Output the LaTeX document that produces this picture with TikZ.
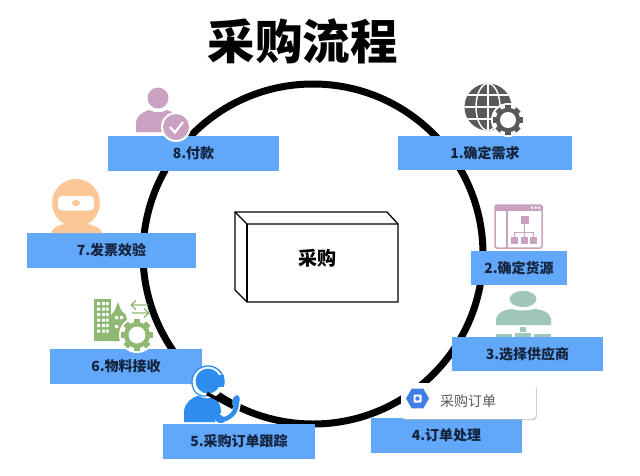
\documentclass[tikz,border=0pt]{standalone}
\usepackage{fontspec}
\setmainfont{Noto Sans CJK SC}
\usetikzlibrary{shapes.geometric,shadows}
\definecolor{boxblue}{HTML}{62A8FA}
\definecolor{labelink}{HTML}{14233C}
\definecolor{globegray}{HTML}{595959}
\definecolor{pinkicon}{HTML}{CBA1C1}
\definecolor{tealicon}{HTML}{9FC6B9}
\definecolor{orangeicon}{HTML}{FCC797}
\definecolor{greenicon}{HTML}{8FB973}
\definecolor{blueicon}{HTML}{2F8DEE}
\definecolor{hexblue}{HTML}{3F7FE6}
\tikzset{
  stepbox/.style={fill=boxblue,draw=none,inner sep=0pt,font=\fontsize{14}{16}\selectfont\bfseries,text=labelink},
  cubeline/.style={draw=black,line width=1.3pt,line join=miter},
  ring/.style={draw=black,line width=7pt},
  cardbox/.style={fill=white,draw=none,rounded corners=4pt,inner sep=0pt,drop shadow={shadow xshift=0.8pt,shadow yshift=-1.2pt,fill=black!35,opacity=0.6}},
}
% gear: x, y, outer radius, inner radius, colour
\newcommand{\geargly}[5]{%
  \fill[white] (#1,#2) circle ({#3+2});
  \foreach \a in {0,45,...,315}{
    \fill[#5,rotate around={\a:(#1,#2)}] ({#1-#3*0.19},#2) rectangle ({#1+#3*0.19},{#2-#3});
  }
  \fill[#5] (#1,#2) circle ({#3*0.82});
  \fill[white] (#1,#2) circle (#4);
}
\begin{document}
\begin{tikzpicture}[x=1pt,y=-1pt]
\useasboundingbox (0,0) rectangle (640,475);
\fill[white] (0,0) rectangle (640,475);
% ring
\node[circle,ring,minimum size=340pt,inner sep=0pt] (ring) at (313,254) {};
% title
\node[font=\fontsize{47.5}{50}\selectfont\bfseries,text=black,inner sep=0pt] (title) at (302.5,41) {采购流程};
% cube
\draw[cubeline] (235,212) -- (387,212) -- (398,224) -- (398,302) -- (247,302) -- (235,290) -- cycle;
\draw[cubeline] (235,212) -- (247,224) -- (398,224);
\draw[cubeline] (247,224) -- (247,302);
\node[font=\fontsize{19}{21}\selectfont\bfseries,text=black,inner sep=0pt] (center) at (317,258) {采购};
% boxes
\node[stepbox,minimum width=174pt,minimum height=34pt] (s1) at (485,153) {1.确定需求};
\node[stepbox,minimum width=96pt,minimum height=34pt] (s2) at (519,268) {2.确定货源};
\node[stepbox,minimum width=151pt,minimum height=34pt] (s3) at (527.5,354) {3.选择供应商};
\node[stepbox,minimum width=151pt,minimum height=35pt] (s4) at (446.5,435.5) {4.订单处理};
\node[stepbox,minimum width=152pt,minimum height=35pt] (s5) at (239,441.5) {5.采购订单跟踪};
\node[stepbox,minimum width=152pt,minimum height=35pt] (s6) at (126,366.5) {6.物料接收};
\node[stepbox,minimum width=169pt,minimum height=35pt] (s7) at (111.5,250.5) {7.发票效验};
\node[stepbox,minimum width=171pt,minimum height=35pt] (s8) at (193.5,153.5) {8.付款};
% icon 1: globe and gear
\fill[globegray] (488,107) circle (23.5);
\begin{scope}
\clip (488,107) circle (23.5);
\draw[white,line width=1.4pt] (488,83) -- (488,131);
\draw[white,line width=1.4pt] (488,107) ellipse (12 and 23.5);
\draw[white,line width=1.4pt] (464,107) -- (512,107);
\draw[white,line width=1.4pt] (464,95) -- (512,95);
\draw[white,line width=1.4pt] (464,119) -- (512,119);
\end{scope}
\geargly{508}{120}{15}{8}{globegray}
% icon 2: window with org chart
\draw[pinkicon,line width=1.5pt,rounded corners=1.5pt] (495,205) rectangle (542,248);
\fill[pinkicon] (495,205) rectangle (542,211);
\fill[white] (531,206.5) rectangle +(2,2) (534.5,206.5) rectangle +(2,2) (538,206.5) rectangle +(2,2);
\draw[pinkicon,line width=1.5pt] (507,211) -- (507,248);
\fill[pinkicon] (520.5,216) rectangle (528.5,224);
\draw[pinkicon,line width=0.9pt] (524.5,224) -- (524.5,232) (514.5,237) -- (514.5,232) -- (533.5,232) -- (533.5,237) (524.5,232) -- (524.5,237);
\fill[pinkicon] (511,237) rectangle (518,243.5);
\fill[pinkicon] (521,237) rectangle (528,243.5);
\fill[pinkicon] (530,237) rectangle (537,243.5);
% icon 3: seated person
\fill[tealicon] (523,299) ellipse (13.5 and 8);
\fill[tealicon] (496,325) -- (496,319) .. controls (497,312) and (505,309.5) .. (512,309) .. controls (518,311) and (528,311) .. (534,309) .. controls (542,309.5) and (550,312) .. (551,319) -- (551,325) -- cycle;
\fill[tealicon] (520,327) rectangle (526,332);
\fill[tealicon] (496,334) rectangle (512,337);
\fill[tealicon] (515,333) rectangle (531,337);
\fill[tealicon] (534,334) rectangle (551,337);
% icon 4: card
\node[cardbox,minimum width=135pt,minimum height=36pt] (card) at (468.5,401) {};
\node[regular polygon,regular polygon sides=6,fill=hexblue,minimum size=23pt,inner sep=0pt] (hex) at (417.5,398.5) {};
\fill[white,rounded corners=0.8pt] (413.5,394.5) rectangle (421.5,402.5);
\fill[hexblue] (417.5,398.5) circle (2.2);
\node[font=\fontsize{14}{16}\selectfont,text=black!65,inner sep=0pt] (cardtext) at (468,401) {采购订单};
% icon 5: agent with headset and phone
\fill[white] (208,382) circle (16);
\fill[blueicon] (184,422) -- (184,411) .. controls (185,403) and (191,398) .. (198,395.5) .. controls (204,399) and (210,399) .. (214,397) .. controls (219,401) and (221,406) .. (221,412) -- (216,422) -- cycle;
\fill[blueicon] (208,381) circle (12.5);
\draw[blueicon,line width=1.4pt] plot[domain=-10:190,samples=30,smooth] ({208+16*cos(\x)},{382-16*sin(\x)});
\fill[blueicon] (219,375) rectangle (223.5,387);
\draw[blueicon,line width=1.2pt] (192.2,385) .. controls (193,392) and (199,397) .. (207,396);
\draw[white,line width=8pt,line cap=round] (219,420) .. controls (229,420) and (238,412) .. (236.5,401);
\draw[black,line width=3.5pt] (207,393.5) -- (233,407.5);
\draw[blueicon,line width=4.5pt,line cap=round] (219,420) .. controls (229,420) and (238,412) .. (236.5,401);
\fill[blueicon,rotate around={-20:(220,419)}] (220,419) ellipse (5.5 and 4);
\fill[blueicon,rotate around={-15:(236,401)}] (236,401) ellipse (3.5 and 6);
% icon 6: buildings, arrows and gear
\fill[greenicon] (94,299) rectangle (110.5,341);
\foreach \yy in {302,307.5,...,330}{
  \fill[white] (97,\yy) rectangle +(3,3) (102,\yy) rectangle +(3,3) (106,\yy) rectangle +(2.5,3);
}
\fill[greenicon] (110.5,341) -- (110.5,316) -- (115,310) -- (118,302) -- (121,310) -- (126,315) -- (128,325) -- (128,341) -- cycle;
\fill[white] (115,316) rectangle +(3,3) (120,316) rectangle +(3,3) (115,325) rectangle +(3,3);
\draw[greenicon,line width=1.3pt] (131,305) -- (148,305) (131,305) -- (136,300.5) (131,305) -- (136,309.5);
\draw[greenicon,line width=1.3pt] (132,313) -- (149,313) (149,313) -- (144,308.5) (149,313) -- (144,317.5);
\geargly{137}{335}{16}{8.5}{greenicon}
% icon 7: webcam head
\fill[orangeicon] (76,203) circle (24);
\fill[white,rounded corners=4pt] (58,196) rectangle (94,210.5);
\fill[orangeicon] (76,203) ellipse (4 and 3);
\fill[orangeicon] (51,233) -- (53,229) .. controls (57,225) and (62,225) .. (66,223.5) .. controls (72,226) and (80,226) .. (86,223.5) .. controls (90,225) and (96,226) .. (100,229) -- (102,233) -- cycle;
% icon 8: person with check
\fill[pinkicon] (158,98) circle (10.5);
\fill[pinkicon] (136,132) -- (136,122) .. controls (137,115) and (143,112) .. (149,110) .. controls (154,113) and (162,113) .. (167,110) .. controls (173,112) and (178,115) .. (180,120) -- (180,132) -- cycle;
\fill[white] (176,127) circle (15);
\fill[pinkicon] (176,127) circle (13);
\draw[white,line width=2.2pt] (170,127) -- (175,132.5) -- (183,122);
\end{tikzpicture}
\end{document}
